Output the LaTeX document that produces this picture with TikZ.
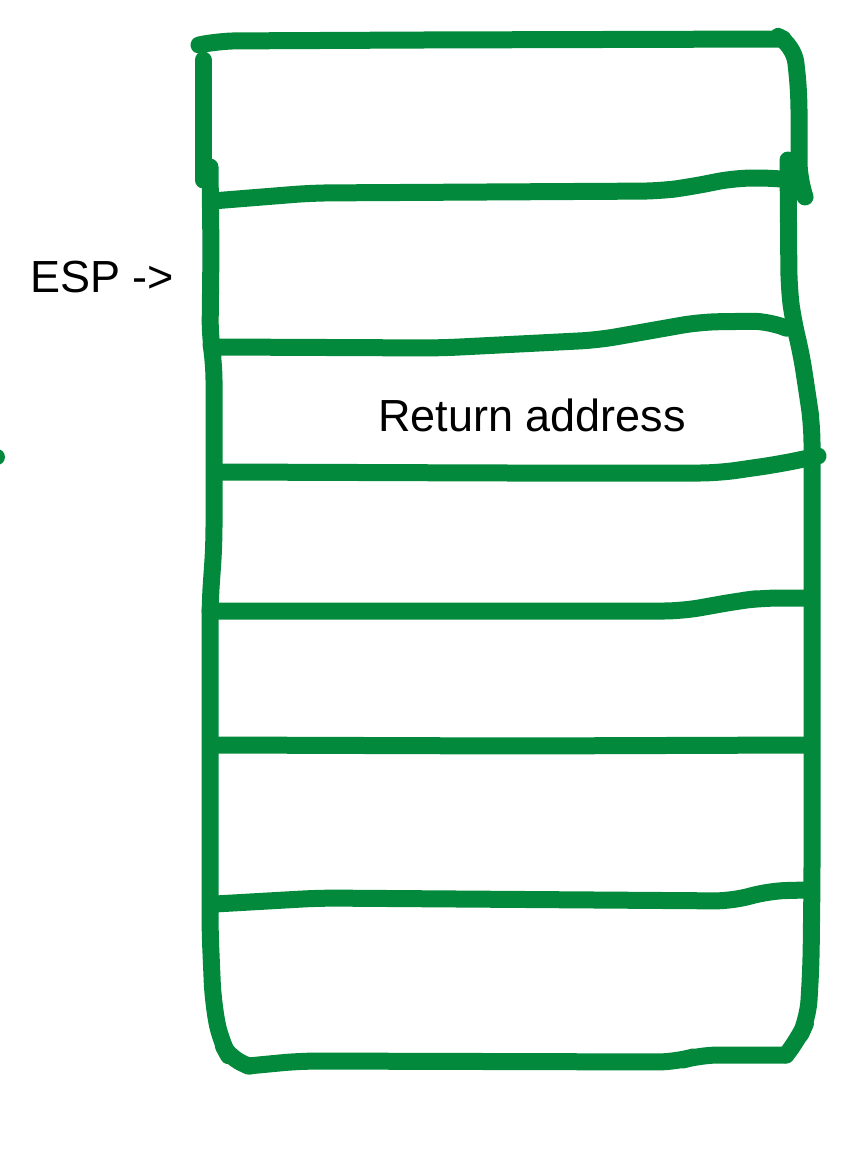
\documentclass[tikz,border=0pt]{standalone}
\usepackage{fontspec}
\setmainfont{Liberation Sans}
\definecolor{pengreen}{RGB}{2, 137, 59}
\tikzset{
  pen/.style={draw=pengreen, line width=17pt, line cap=round, line join=round, rounded corners=18pt},
  label/.style={anchor=base west, inner sep=0pt, font=\fontsize{45}{54}\selectfont}
}
\begin{document}
\begin{tikzpicture}[x=1pt, y=-1pt]
  \useasboundingbox (0,0) rectangle (862,1149);
  % stray mark at the left edge
  \begin{scope}
    \clip (0,0) rectangle (862,1149);
    \fill[pengreen] (-3,457) circle (8);
  \end{scope}
  % outer frame, left side
  \draw[pen] (203,60) -- (203,180);
  \draw[pen] (210,167) -- (211,250) -- (210,338) -- (214,362) -- (214,545) -- (210,603)
    -- (210,930) -- (213,1000) -- (220,1040) -- (232,1062) -- (250,1066);
  % outer frame, right side
  \draw[pen] (783,39) -- (794,45) -- (799,92) -- (799,180) -- (804,194);
  \draw[pen] (788,160) -- (789,288) -- (793,320) -- (801,352) -- (808,398) -- (812,425)
    -- (812,880) -- (811,965) -- (808,1018) -- (798,1040) -- (786,1055);
  % cell borders
  \draw[pen] (199,45) -- (218,41) -- (420,40) -- (783,39);
  \draw[pen] (212,201) -- (312,193) -- (660,191) -- (690,187) -- (735,178) -- (776,178) -- (800,181);
  \draw[pen] (216,347) -- (440,348) -- (598,340) -- (700,322) -- (770,321) -- (786,328);
  \draw[pen] (220,472) -- (500,473) -- (718,473) -- (780,464) -- (818,456);
  \draw[pen] (210,611) -- (480,611) -- (682,611) -- (738,601) -- (762,598) -- (806,598);
  \draw[pen] (214,745) -- (520,746) -- (806,745);
  \draw[pen] (215,904) -- (320,898) -- (733,901) -- (768,891) -- (806,890);
  \draw[pen] (248,1066) -- (300,1061) -- (676,1062) -- (700,1055) -- (786,1055);
  % labels
  \node[label] (esp) at (30,292) {ESP ->};
  \node[label] (retaddr) at (378,431) {Return address};
\end{tikzpicture}
\end{document}
